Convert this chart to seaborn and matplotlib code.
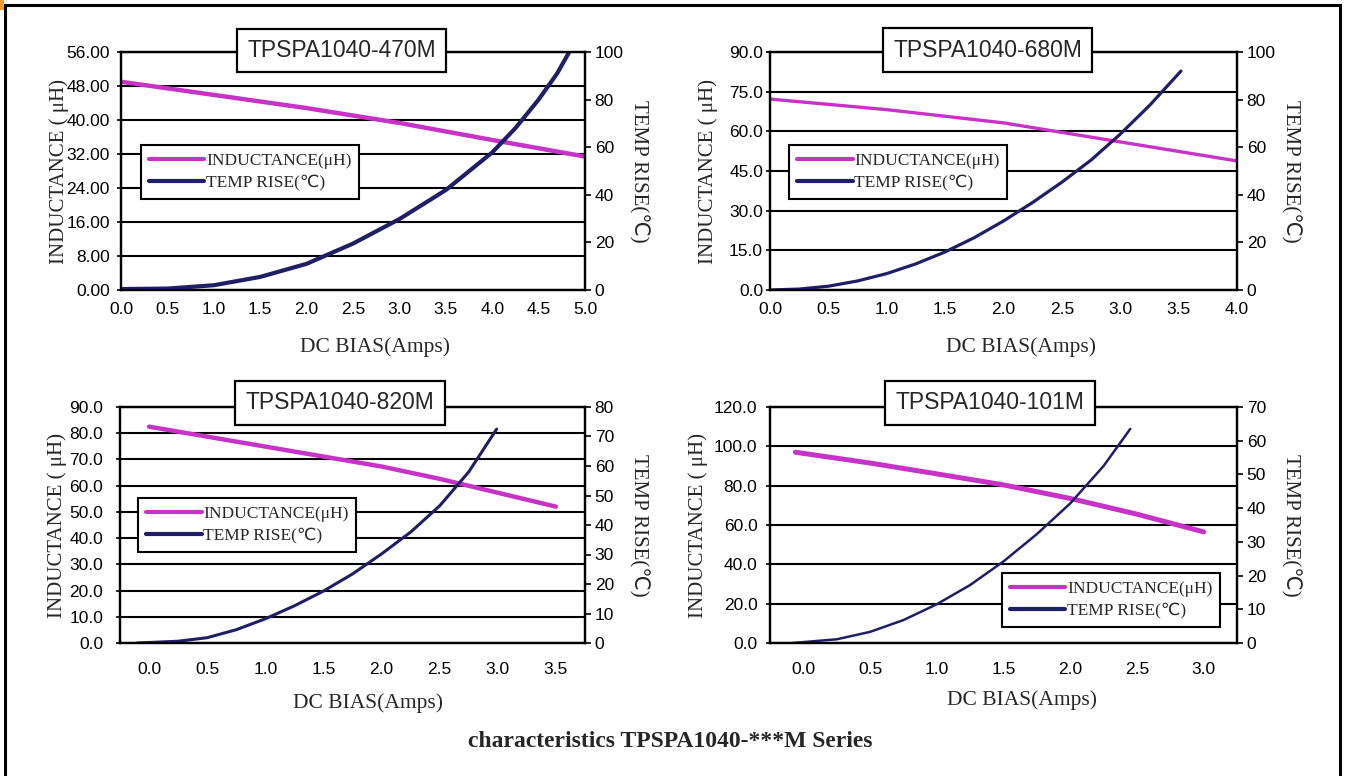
import matplotlib
matplotlib.use('Agg')
import matplotlib.pyplot as plt
import matplotlib.font_manager as fm
from matplotlib.lines import Line2D
from matplotlib.patches import Rectangle
from matplotlib.ticker import FormatStrFormatter
import numpy as np
import seaborn as sns

# values
parts = ['TPSPA1040-470M', 'TPSPA1040-680M', 'TPSPA1040-820M', 'TPSPA1040-101M']

ind_470_x = [0.0, 1.0, 2.0, 3.0, 4.0, 5.0]
ind_470_y = [49.0, 45.9, 42.8, 39.3, 35.3, 31.4]
tmp_470_x = [0.0, 0.5, 1.0, 1.5, 2.0, 2.5, 3.0, 3.5, 4.0, 4.25, 4.5, 4.7, 4.83]
tmp_470_y = [0.4, 0.6, 2.0, 5.5, 11.0, 19.5, 29.8, 42.0, 57.8, 68.0, 80.0, 91.0, 100.0]

ind_680_x = [0.0, 1.0, 2.0, 3.0, 4.0]
ind_680_y = [72.2, 68.2, 63.2, 56.0, 48.8]
tmp_680_x = [0.0, 0.25, 0.5, 0.75, 1.0, 1.25, 1.5, 1.75, 2.0, 2.25, 2.5, 2.75, 3.0, 3.25, 3.52]
tmp_680_y = [0.0, 0.4, 1.6, 3.8, 6.9, 11.0, 16.0, 22.0, 29.0, 36.8, 45.3, 54.6, 65.5, 77.5, 92.0]

ind_820_x = [0.0, 0.5, 1.0, 1.5, 2.0, 2.5, 3.0, 3.5]
ind_820_y = [82.5, 78.7, 74.9, 71.1, 67.3, 62.6, 57.3, 52.0]
tmp_820_x = [-0.1, 0.25, 0.5, 0.75, 1.0, 1.25, 1.5, 1.75, 2.0, 2.25, 2.5, 2.75, 2.99]
tmp_820_y = [0.0, 0.6, 1.8, 4.5, 8.2, 12.6, 17.6, 23.4, 30.2, 37.6, 46.5, 58.0, 72.5]

ind_101_x = [-0.06, 0.5, 1.0, 1.5, 2.0, 2.5, 3.0]
ind_101_y = [97.0, 91.5, 86.0, 80.4, 73.5, 65.5, 56.5]
tmp_101_x = [-0.08, 0.25, 0.5, 0.75, 1.0, 1.25, 1.5, 1.75, 2.0, 2.25, 2.45]
tmp_101_y = [0.0, 1.1, 3.3, 6.8, 11.5, 17.2, 24.2, 32.3, 41.4, 52.5, 63.5]

x_ticks_470 = np.arange(0, 5.01, 0.5)
x_ticks_680 = np.arange(0, 4.01, 0.5)
x_ticks_820 = np.arange(0, 3.51, 0.5)
x_ticks_101 = np.arange(0, 3.01, 0.5)

sns.set_style('white')
installed = {f.name for f in fm.fontManager.ttflist}
sans = ['Liberation Sans Narrow'] if 'Liberation Sans Narrow' in installed else []
plt.rcParams['font.family'] = sans + ['Liberation Sans', 'DejaVu Sans']
serif = ['Liberation Serif', 'DejaVu Sans']

MAG = '#c633c6'
NAVY = '#1f1f66'
W, H = 1348, 776

fig = plt.figure(figsize=(W / 100, H / 100), dpi=100)
fig.patch.set_facecolor('white')

panels = [
    dict(box=(121, 52, 585, 290), xlim=(0, 5), xt=x_ticks_470, cat=False,
         yl=(0, 56, 8, '%.2f'), yr=(0, 100, 20), lw=(3.2, 3.0),
         ind=(ind_470_x, ind_470_y), tmp=(tmp_470_x, tmp_470_y),
         leg=('upper left', (0.043, 0.61)), title=(0.475, 1.006),
         xl=(0.547, -0.2), lpad=5, xpad=8.5, ylx=-0.111),
    dict(box=(770, 52, 1237, 290), xlim=(0, 4), xt=x_ticks_680, cat=False,
         yl=(0, 90, 15, '%.1f'), yr=(0, 100, 20), lw=(2.4, 2.3),
         ind=(ind_680_x, ind_680_y), tmp=(tmp_680_x, tmp_680_y),
         leg=('upper left', (0.041, 0.61)), title=(0.466, 1.008),
         xl=(0.537, -0.2), lpad=2, xpad=8.5, ylx=-0.111),
    dict(box=(120, 407, 585, 643), xlim=(-0.25, 3.75), xt=x_ticks_820, cat=True,
         yl=(0, 90, 10, '%.1f'), yr=(0, 80, 10), lw=(3.2, 2.2),
         ind=(ind_820_x, ind_820_y), tmp=(tmp_820_x, tmp_820_y),
         leg=('upper left', (0.039, 0.614)), title=(0.473, 1.017),
         xl=(0.534, -0.212), lpad=9, xpad=13.5, ylx=-0.114),
    dict(box=(770, 407, 1237, 643), xlim=(-0.25, 3.25), xt=x_ticks_101, cat=True,
         yl=(0, 120, 20, '%.1f'), yr=(0, 70, 10), lw=(3.6, 1.8),
         ind=(ind_101_x, ind_101_y), tmp=(tmp_101_x, tmp_101_y),
         leg=('lower right', (0.964, 0.068)), title=(0.471, 1.017),
         xl=(0.54, -0.2), lpad=6, xpad=13.5, ylx=-0.133),
]

for name, p in zip(parts, panels):
    x0, y0, x1, y1 = p['box']
    ax = fig.add_axes([x0 / W, 1 - y1 / H, (x1 - x0) / W, (y1 - y0) / H])
    ax2 = ax.twinx()

    sns.lineplot(x=p['ind'][0], y=p['ind'][1], ax=ax, color=MAG, lw=p['lw'][0],
                 estimator=None, sort=False, solid_joinstyle='round')
    sns.lineplot(x=p['tmp'][0], y=p['tmp'][1], ax=ax2, color=NAVY, lw=p['lw'][1],
                 estimator=None, sort=False, solid_joinstyle='round')

    lo, hi, step, fmt = p['yl']
    ax.set_ylim(lo, hi)
    ax.set_yticks(np.arange(lo, hi + 0.01, step))
    ax.yaxis.set_major_formatter(FormatStrFormatter(fmt))
    ax.yaxis.grid(True, color='black', lw=1.5)
    ax.set_axisbelow(True)

    rlo, rhi, rstep = p['yr']
    ax2.set_ylim(rlo, rhi)
    ax2.set_yticks(np.arange(rlo, rhi + 0.01, rstep))
    ax2.yaxis.set_major_formatter(FormatStrFormatter('%d'))

    ax.set_xlim(*p['xlim'])
    ax.set_xticks(p['xt'])
    ax.xaxis.set_major_formatter(FormatStrFormatter('%.1f'))
    if p['cat']:
        ax.set_xticks(np.arange(p['xlim'][0] + 0.5, p['xlim'][1] - 0.01, 0.5), minor=True)
        ax.tick_params(axis='x', which='major', length=0, pad=p['xpad'])
        ax.tick_params(axis='x', which='minor', direction='in', length=4, width=1.5,
                       color='black')
    else:
        ax.tick_params(axis='x', which='major', direction='in', length=4, width=1.5,
                       pad=p['xpad'], color='black')

    ax.tick_params(axis='y', which='major', direction='out', length=3, width=1.2,
                   pad=p['lpad'], color='black')
    ax2.tick_params(axis='y', which='major', direction='out', length=4, width=1.2,
                    pad=3, color='black')
    for a in (ax, ax2):
        a.tick_params(labelsize=12.5, labelcolor='black')
        for s in a.spines.values():
            s.set_visible(True)
            s.set_color('black')
            s.set_linewidth(1.6)

    ax.set_xlabel('DC BIAS(Amps)', fontsize=15.5, family=serif)
    ax.xaxis.set_label_coords(*p['xl'])
    ax.set_ylabel('INDUCTANCE ( μH)', fontsize=15, family=serif)
    ax.yaxis.set_label_coords(p['ylx'], 0.5)
    ax2.set_ylabel('TEMP RISE(℃)', fontsize=15, family=serif, rotation=270, va='bottom')
    ax2.yaxis.set_label_coords(1.094, 0.5)

    handles = [Line2D([], [], color=MAG, lw=3), Line2D([], [], color=NAVY, lw=3)]
    leg = ax2.legend(handles, ['INDUCTANCE(μH)', 'TEMP RISE(℃)'],
                     loc=p['leg'][0], bbox_to_anchor=p['leg'][1],
                     frameon=True, fancybox=False, framealpha=1, edgecolor='black',
                     handlelength=3.2, handletextpad=0.1, borderpad=0.45,
                     labelspacing=0.35, borderaxespad=0,
                     prop=fm.FontProperties(family=serif, size=12.5))
    leg.get_frame().set_linewidth(1.5)

    ax2.text(p['title'][0], p['title'][1], name, transform=ax.transAxes,
             ha='center', va='center', fontsize=16.5, family='Liberation Sans',
             zorder=10, clip_on=False,
             bbox=dict(boxstyle='square,pad=0.45', fc='white', ec='black', lw=1.6))

fig.text(0.497, 0.045, 'characteristics TPSPA1040-***M Series', ha='center',
         va='center', fontsize=17, fontweight='bold', family='Liberation Serif')

fig.add_artist(Rectangle((5 / W, -0.05), (1340 - 5) / W, 1.05 - 5.5 / H,
                         transform=fig.transFigure, fill=False, ec='black', lw=2.2))
fig.add_artist(Rectangle((0, 1 - 10 / H), 4 / W, 10 / H, transform=fig.transFigure,
                         fc='#f39a2e', ec='none'))

fig.savefig('out.png', dpi=100)
